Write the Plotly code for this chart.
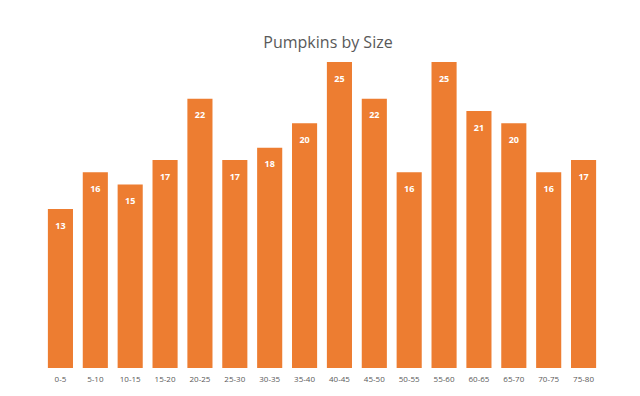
import plotly.graph_objects as go

categories = ["0-5","5-10","10-15","15-20","20-25","25-30","30-35","35-40",
              "40-45","45-50","50-55","55-60","60-65","65-70","70-75","75-80"]
counts = [13,16,15,17,22,17,18,20,25,22,16,25,21,20,16,17]

fig = go.Figure(go.Bar(
    x=categories, y=counts,
    marker=dict(color="#ED7D31", line=dict(width=0)),
    text=[str(v) for v in counts],
    textposition="inside", insidetextanchor="end",
    textfont=dict(color="white", size=9, family="Open Sans"),
    texttemplate="<span style='font-size:5px'> </span><br><b>%{text}</b>",
))
fig.update_layout(
    width=640, height=396,
    margin=dict(l=35, r=47, t=54, b=36),
    paper_bgcolor="white", plot_bgcolor="white",
    bargap=0.28,
    title=dict(text="Pumpkins by Size", x=0.5, xanchor="center", y=0.912, yanchor="middle",
               font=dict(size=16, color="#595959", family="Open Sans")),
    xaxis=dict(showline=False, ticks="", ticklabelstandoff=5,
               tickfont=dict(size=8, color="#595959", family="Open Sans")),
    yaxis=dict(visible=False, range=[0, 25], showgrid=False),
    showlegend=False,
)
fig.update_traces(cliponaxis=False)
fig.write_html("out.html")
